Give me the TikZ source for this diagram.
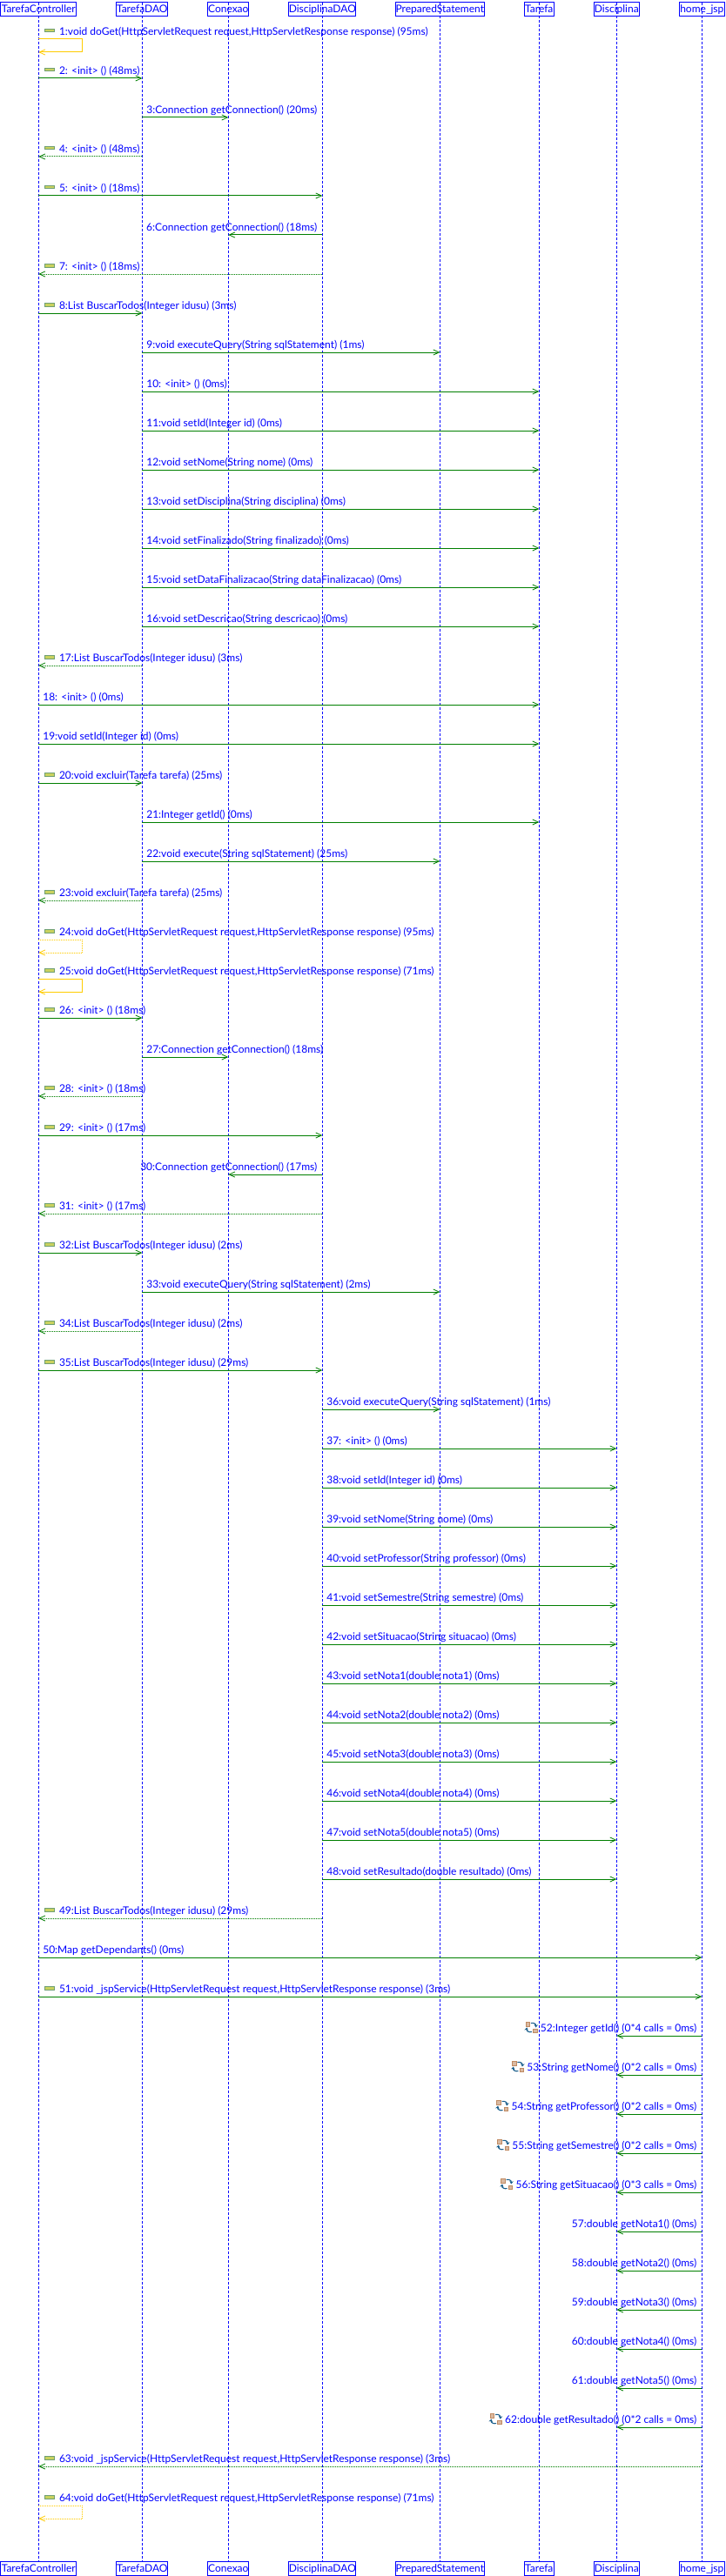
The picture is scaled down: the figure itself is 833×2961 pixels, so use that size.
\documentclass[tikz,border=0pt]{standalone}
\usepackage{fontspec}
\setmainfont[Ligatures=NoCommon]{Lato}
\usetikzlibrary{arrows.meta}
\definecolor{umlblue}{HTML}{0000FF}
\definecolor{umlgreen}{HTML}{007F00}
\definecolor{umlyellow}{HTML}{FFCC00}
\definecolor{stubedge}{HTML}{6F9F73}
\definecolor{stubfill}{HTML}{C9D25E}
\definecolor{boxtan}{HTML}{C08A62}
\definecolor{arcblue}{HTML}{1A5F8C}
\newcommand{\pxw}{0.75pt}
\tikzset{
  x=0.75pt,y=-0.75pt,
  every node/.style={font=\fontsize{9pt}{11pt}\selectfont,text=umlblue,inner sep=0pt,outer sep=0pt},
  actor/.style={draw=umlblue,line width=\pxw,minimum height=11.6pt,anchor=center,text height=8pt,text depth=1.6pt},
  lifeline/.style={draw=umlblue,line width=\pxw,dash pattern=on 2.25pt off 1.5pt},
  call/.style={draw=umlgreen,line width=\pxw,-{Straight Barb[length=5pt,width=4.6pt,line width=.6pt]}},
  reply/.style={call,dash pattern=on \pxw off \pxw},
  selfcall/.style={draw=umlyellow,line width=\pxw,-{Straight Barb[length=5pt,width=4.6pt,line width=.6pt]}},
  selfreply/.style={selfcall,dash pattern=on \pxw off \pxw},
  msglabel/.style={anchor=base west},
  msglabelr/.style={anchor=base east,xshift=-4.5pt},
}
\newcommand{\rows}[1]{%
  \coordinate (r#1) at (0,{45*#1});
  \coordinate (b#1) at (0,{45*#1-4.5});
  \coordinate (a#1) at (0,{45*#1+15});
}
\newcommand{\stub}[1]{%
  \draw[draw=stubedge,fill=stubfill,line width=\pxw] (51.5,{45*#1-11.5}) rectangle (62.5,{45*#1-8});
}
\newcommand{\repeaticon}[1]{%
  \begin{scope}[shift={(#1.base west)}]
    \draw[boxtan,fill=boxtan!60!white,line width=0.5pt] (-17,-11) rectangle (-12.5,-6.5);
    \draw[boxtan,fill=boxtan!60!white,line width=0.5pt] (-8.5,-3.5) rectangle (-4,1);
    \draw[arcblue,line width=0.8pt,-{Stealth[length=2.6pt,width=3.4pt]}] (-11,-10) .. controls (-8,-11) and (-5,-9) .. (-5.5,-5);
    \draw[arcblue,line width=0.8pt,-{Stealth[length=2.6pt,width=3.4pt]}] (-10,0) .. controls (-13,1) and (-16.5,-1) .. (-15.5,-5);
  \end{scope}
}
% right-going, no icon
\newcommand{\mR}[4]{%
  \rows{#3}
  \coordinate (s#3) at (#1 |- r#3);
  \coordinate (e#3) at (#2 |- r#3);
  \draw[call] (s#3) -- (e#3);
  \node[msglabel,xshift=3.75pt] (l#3) at (#1 |- b#3) {#4};
}
% right-going, with icon
\newcommand{\mRi}[4]{%
  \rows{#3}
  \coordinate (s#3) at (#1 |- r#3);
  \coordinate (e#3) at (#2 |- r#3);
  \draw[call] (s#3) -- (e#3);
  \stub{#3}
  \node[msglabel,xshift=17.8pt] (l#3) at (#1 |- b#3) {#4};
}
% dotted return to the controller
\newcommand{\mD}[3]{%
  \rows{#2}
  \coordinate (s#2) at (#1 |- r#2);
  \coordinate (e#2) at (TC |- r#2);
  \draw[reply] (s#2) -- (e#2);
  \stub{#2}
  \node[msglabel,xshift=17.8pt] (l#2) at (TC |- b#2) {#3};
}
% left-going, no icon
\newcommand{\mL}[4]{%
  \rows{#3}
  \coordinate (s#3) at (#1 |- r#3);
  \coordinate (e#3) at (#2 |- r#3);
  \draw[call] (s#3) -- (e#3);
  \node[msglabelr] (l#3) at (#1 |- b#3) {#4};
}
% left-going, with loop icon
\newcommand{\mLi}[4]{%
  \mL{#1}{#2}{#3}{#4}
  \repeaticon{l#3}
}
% self call
\newcommand{\mS}[3]{%
  \rows{#2}
  \coordinate (s#2) at (TC |- r#2);
  \coordinate (e#2) at (TC |- a#2);
  \draw[#1] (s#2) -- ++(50.5,0) |- (e#2);
  \stub{#2}
  \node[msglabel,xshift=17.8pt] (l#2) at (TC |- b#2) {#3};
}
\begin{document}
\begin{tikzpicture}
\useasboundingbox (0,0) rectangle (833,2961);
\fill[white] (0,0) rectangle (833,2961);
% actors, top
\node[actor,minimum width=65pt]   (TC) at (44.3,10.3) {TarefaController};
\node[actor,minimum width=44.2pt] (TD) at (163.3,10.3) {TarefaDAO};
\node[actor,minimum width=35pt]   (CX) at (262.3,10.3) {Conexao};
\node[actor,minimum width=57.4pt] (DD) at (370.3,10.3) {DisciplinaDAO};
\node[actor,minimum width=76.5pt] (PS) at (505.3,10.3) {PreparedStatement};
\node[actor,minimum width=25.5pt] (TA) at (619.3,10.3) {Tarefa};
\node[actor,minimum width=38.6pt] (DI) at (708.3,10.3) {Disciplina};
\node[actor,minimum width=39pt]   (HJ) at (806.3,10.3) {home\_jsp};
% actors, bottom
\node[actor,minimum width=65pt]   (TCf) at (44.3,2952.3) {TarefaController};
\node[actor,minimum width=44.2pt] (TDf) at (163.3,2952.3) {TarefaDAO};
\node[actor,minimum width=35pt]   (CXf) at (262.3,2952.3) {Conexao};
\node[actor,minimum width=57.4pt] (DDf) at (370.3,2952.3) {DisciplinaDAO};
\node[actor,minimum width=76.5pt] (PSf) at (505.3,2952.3) {PreparedStatement};
\node[actor,minimum width=25.5pt] (TAf) at (619.3,2952.3) {Tarefa};
\node[actor,minimum width=38.6pt] (DIf) at (708.3,2952.3) {Disciplina};
\node[actor,minimum width=39pt]   (HJf) at (806.3,2952.3) {home\_jsp};
% lifelines
\foreach \a in {TC,TD,CX,DD,PS,TA,DI,HJ}{ \draw[lifeline] (\a.north) -- (\a f.north); }
% messages
\mS{selfcall}{1}{1:void doGet(HttpServletRequest request,HttpServletResponse response) (95ms)}
\mRi{TC}{TD}{2}{2: <init> () (48ms)}
\mR{TD}{CX}{3}{3:Connection getConnection() (20ms)}
\mD{TD}{4}{4: <init> () (48ms)}
\mRi{TC}{DD}{5}{5: <init> () (18ms)}
\mL{DD}{CX}{6}{6:Connection getConnection() (18ms)}
\mD{DD}{7}{7: <init> () (18ms)}
\mRi{TC}{TD}{8}{8:List BuscarTodos(Integer idusu) (3ms)}
\mR{TD}{PS}{9}{9:void executeQuery(String sqlStatement) (1ms)}
\mR{TD}{TA}{10}{10: <init> () (0ms)}
\mR{TD}{TA}{11}{11:void setId(Integer id) (0ms)}
\mR{TD}{TA}{12}{12:void setNome(String nome) (0ms)}
\mR{TD}{TA}{13}{13:void setDisciplina(String disciplina) (0ms)}
\mR{TD}{TA}{14}{14:void setFinalizado(String finalizado) (0ms)}
\mR{TD}{TA}{15}{15:void setDataFinalizacao(String dataFinalizacao) (0ms)}
\mR{TD}{TA}{16}{16:void setDescricao(String descricao) (0ms)}
\mD{TD}{17}{17:List BuscarTodos(Integer idusu) (3ms)}
\mR{TC}{TA}{18}{18: <init> () (0ms)}
\mR{TC}{TA}{19}{19:void setId(Integer id) (0ms)}
\mRi{TC}{TD}{20}{20:void excluir(Tarefa tarefa) (25ms)}
\mR{TD}{TA}{21}{21:Integer getId() (0ms)}
\mR{TD}{PS}{22}{22:void execute(String sqlStatement) (25ms)}
\mD{TD}{23}{23:void excluir(Tarefa tarefa) (25ms)}
\mS{selfreply}{24}{24:void doGet(HttpServletRequest request,HttpServletResponse response) (95ms)}
\mS{selfcall}{25}{25:void doGet(HttpServletRequest request,HttpServletResponse response) (71ms)}
\mRi{TC}{TD}{26}{26: <init> () (18ms)}
\mR{TD}{CX}{27}{27:Connection getConnection() (18ms)}
\mD{TD}{28}{28: <init> () (18ms)}
\mRi{TC}{DD}{29}{29: <init> () (17ms)}
\mL{DD}{CX}{30}{30:Connection getConnection() (17ms)}
\mD{DD}{31}{31: <init> () (17ms)}
\mRi{TC}{TD}{32}{32:List BuscarTodos(Integer idusu) (2ms)}
\mR{TD}{PS}{33}{33:void executeQuery(String sqlStatement) (2ms)}
\mD{TD}{34}{34:List BuscarTodos(Integer idusu) (2ms)}
\mRi{TC}{DD}{35}{35:List BuscarTodos(Integer idusu) (29ms)}
\mR{DD}{PS}{36}{36:void executeQuery(String sqlStatement) (1ms)}
\mR{DD}{DI}{37}{37: <init> () (0ms)}
\mR{DD}{DI}{38}{38:void setId(Integer id) (0ms)}
\mR{DD}{DI}{39}{39:void setNome(String nome) (0ms)}
\mR{DD}{DI}{40}{40:void setProfessor(String professor) (0ms)}
\mR{DD}{DI}{41}{41:void setSemestre(String semestre) (0ms)}
\mR{DD}{DI}{42}{42:void setSituacao(String situacao) (0ms)}
\mR{DD}{DI}{43}{43:void setNota1(double nota1) (0ms)}
\mR{DD}{DI}{44}{44:void setNota2(double nota2) (0ms)}
\mR{DD}{DI}{45}{45:void setNota3(double nota3) (0ms)}
\mR{DD}{DI}{46}{46:void setNota4(double nota4) (0ms)}
\mR{DD}{DI}{47}{47:void setNota5(double nota5) (0ms)}
\mR{DD}{DI}{48}{48:void setResultado(double resultado) (0ms)}
\mD{DD}{49}{49:List BuscarTodos(Integer idusu) (29ms)}
\mR{TC}{HJ}{50}{50:Map getDependants() (0ms)}
\mRi{TC}{HJ}{51}{51:void \_jspService(HttpServletRequest request,HttpServletResponse response) (3ms)}
\mLi{HJ}{DI}{52}{52:Integer getId() (0*4 calls = 0ms)}
\mLi{HJ}{DI}{53}{53:String getNome() (0*2 calls = 0ms)}
\mLi{HJ}{DI}{54}{54:String getProfessor() (0*2 calls = 0ms)}
\mLi{HJ}{DI}{55}{55:String getSemestre() (0*2 calls = 0ms)}
\mLi{HJ}{DI}{56}{56:String getSituacao() (0*3 calls = 0ms)}
\mL{HJ}{DI}{57}{57:double getNota1() (0ms)}
\mL{HJ}{DI}{58}{58:double getNota2() (0ms)}
\mL{HJ}{DI}{59}{59:double getNota3() (0ms)}
\mL{HJ}{DI}{60}{60:double getNota4() (0ms)}
\mL{HJ}{DI}{61}{61:double getNota5() (0ms)}
\mLi{HJ}{DI}{62}{62:double getResultado() (0*2 calls = 0ms)}
\mD{HJ}{63}{63:void \_jspService(HttpServletRequest request,HttpServletResponse response) (3ms)}
\mS{selfreply}{64}{64:void doGet(HttpServletRequest request,HttpServletResponse response) (71ms)}
\end{tikzpicture}
\end{document}
